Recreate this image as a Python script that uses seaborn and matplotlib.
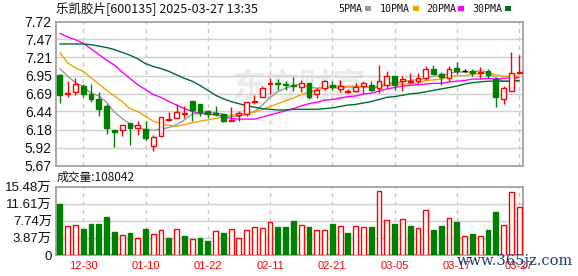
import numpy as np
import pandas as pd
import matplotlib
matplotlib.use("Agg")
import matplotlib.pyplot as plt
from matplotlib.patches import Rectangle
import seaborn as sns

# ---------------- data ----------------
title_text = "乐凯胶片[600135] 2025-03-27 13:35"
volume_text = "成交量:108042"
tick_pos = [3, 11, 19, 27, 35, 43, 51, 59]
tick_labels = ["12-30", "01-10", "01-22", "02-11", "02-21", "03-05", "03-17", "03-27"]
price_ticks = [5.67, 5.92, 6.18, 6.44, 6.69, 6.95, 7.21, 7.47, 7.72]
vol_ticks = [0, 3.87, 7.74, 11.61, 15.48]
vol_tick_labels = ["0", "3.87万", "7.74万", "11.61万", "15.48万"]

opens = [6.96, 6.69, 6.71, 6.80, 6.69, 6.61, 6.51, 6.18, 6.17, 6.28,
         6.20, 6.19, 5.95, 6.09, 6.32, 6.35, 6.41, 6.59, 6.54, 6.45,
         6.42, 6.41, 6.31, 6.39, 6.40, 6.57, 6.64, 6.83, 6.85, 6.83,
         6.81, 6.79, 6.85, 6.69, 6.77, 6.82, 6.76, 6.72, 6.73, 6.80,
         6.82, 6.78, 6.81, 6.95, 6.87, 6.86, 6.87, 6.91, 7.04, 6.97,
         6.92, 7.06, 7.02, 7.01, 6.98, 7.01, 6.90, 6.62, 6.73, 6.99]
highs = [6.97, 6.87, 6.91, 6.83, 6.83, 6.72, 6.54, 6.18, 6.25, 6.28,
         6.31, 6.31, 6.10, 6.36, 6.43, 6.54, 6.51, 6.59, 6.54, 6.46,
         6.51, 6.41, 6.50, 6.44, 6.57, 6.68, 6.80, 6.91, 6.90, 6.88,
         6.93, 6.89, 6.85, 6.77, 6.89, 6.87, 6.89, 6.76, 6.84, 6.87,
         6.87, 7.10, 7.01, 6.95, 6.94, 6.98, 6.98, 7.09, 7.10, 7.00,
         7.09, 7.15, 7.05, 7.04, 7.07, 7.04, 6.93, 6.80, 7.29, 7.24]
lows = [6.56, 6.65, 6.68, 6.64, 6.57, 6.37, 6.12, 5.93, 6.09, 5.96,
        6.10, 6.03, 5.87, 6.09, 6.31, 6.35, 6.35, 6.31, 6.37, 6.35,
        6.37, 6.29, 6.30, 6.31, 6.37, 6.55, 6.64, 6.69, 6.75, 6.75,
        6.73, 6.72, 6.62, 6.63, 6.74, 6.75, 6.71, 6.70, 6.71, 6.70,
        6.73, 6.70, 6.78, 6.75, 6.73, 6.84, 6.84, 6.89, 6.97, 6.81,
        6.88, 6.97, 7.00, 6.95, 6.91, 6.91, 6.50, 6.55, 6.73, 6.97]
closes = [6.68, 6.70, 6.83, 6.69, 6.62, 6.48, 6.21, 6.15, 6.25, 6.20,
          6.25, 6.06, 6.07, 6.36, 6.33, 6.43, 6.42, 6.46, 6.43, 6.40,
          6.41, 6.30, 6.32, 6.42, 6.57, 6.59, 6.77, 6.84, 6.83, 6.82,
          6.80, 6.84, 6.64, 6.75, 6.87, 6.79, 6.80, 6.73, 6.79, 6.85,
          6.75, 6.87, 6.95, 6.82, 6.90, 6.87, 6.91, 7.05, 6.97, 6.93,
          7.05, 7.02, 7.02, 6.99, 7.00, 6.96, 6.64, 6.77, 6.98, 7.00]
volumes = [11.50, 6.53, 6.76, 5.86, 7.06, 7.06, 8.56, 5.18, 4.51, 5.03,
           3.83, 5.86, 4.73, 5.56, 3.83, 5.78, 4.28, 3.53, 3.83, 3.15,
           5.41, 5.03, 5.86, 3.83, 5.63, 6.31, 6.08, 7.43, 6.31, 6.31,
           7.66, 6.76, 6.31, 5.63, 5.63, 7.06, 6.53, 5.03, 6.53, 6.31,
           6.31, 14.42, 7.89, 7.06, 8.11, 6.53, 6.08, 10.14, 5.63, 6.53,
           8.34, 7.43, 4.28, 4.73, 4.28, 5.63, 9.69, 6.76, 14.20, 10.8042]
ma5 = [7.05, 6.94, 6.85, 6.79, 6.70, 6.66, 6.57, 6.43, 6.34, 6.26,
       6.21, 6.18, 6.17, 6.19, 6.21, 6.25, 6.32, 6.40, 6.41, 6.43,
       6.42, 6.40, 6.37, 6.37, 6.40, 6.44, 6.53, 6.64, 6.72, 6.77,
       6.81, 6.83, 6.79, 6.77, 6.78, 6.78, 6.77, 6.79, 6.80, 6.79,
       6.78, 6.80, 6.84, 6.85, 6.86, 6.88, 6.89, 6.91, 6.94, 6.95,
       6.98, 7.00, 7.00, 7.00, 7.02, 7.00, 6.92, 6.87, 6.87, 6.87]
ma10 = [7.28, 7.13, 7.06, 7.01, 6.92, 6.83, 6.74, 6.66, 6.58, 6.48,
        6.44, 6.37, 6.30, 6.27, 6.24, 6.23, 6.25, 6.28, 6.30, 6.32,
        6.34, 6.36, 6.39, 6.39, 6.42, 6.43, 6.47, 6.51, 6.55, 6.59,
        6.63, 6.68, 6.71, 6.75, 6.78, 6.80, 6.80, 6.79, 6.78, 6.79,
        6.78, 6.78, 6.82, 6.82, 6.83, 6.83, 6.84, 6.88, 6.89, 6.90,
        6.93, 6.95, 6.95, 6.97, 6.98, 6.99, 6.96, 6.94, 6.94, 6.94]
ma20 = [7.55, 7.50, 7.46, 7.41, 7.33, 7.25, 7.17, 7.10, 7.00, 6.91,
        6.82, 6.75, 6.68, 6.64, 6.58, 6.53, 6.48, 6.44, 6.41, 6.40,
        6.39, 6.37, 6.34, 6.33, 6.33, 6.33, 6.36, 6.39, 6.42, 6.45,
        6.48, 6.52, 6.55, 6.57, 6.60, 6.61, 6.63, 6.65, 6.66, 6.69,
        6.70, 6.73, 6.76, 6.78, 6.80, 6.81, 6.82, 6.83, 6.84, 6.84,
        6.86, 6.87, 6.88, 6.90, 6.90, 6.91, 6.90, 6.91, 6.92, 6.92]
ma30 = [7.40, 7.40, 7.40, 7.40, 7.39, 7.37, 7.35, 7.32, 7.28, 7.24,
        7.19, 7.12, 7.08, 7.05, 7.01, 6.96, 6.91, 6.87, 6.81, 6.74,
        6.67, 6.62, 6.58, 6.55, 6.52, 6.50, 6.48, 6.47, 6.46, 6.46,
        6.47, 6.47, 6.47, 6.47, 6.48, 6.49, 6.51, 6.53, 6.54, 6.56,
        6.58, 6.61, 6.64, 6.65, 6.67, 6.69, 6.70, 6.72, 6.74, 6.76,
        6.78, 6.80, 6.83, 6.85, 6.86, 6.87, 6.87, 6.87, 6.87, 6.88]
ma_names = ["5PMA", "10PMA", "20PMA", "30PMA"]
ma_colors = ["#9b9b9b", "#f5a300", "#ff00ff", "#006b2f"]

RED = "#ff0000"
GREEN = "#008000"

# ---------------- style ----------------
sns.set_style("white")
plt.rcParams["font.family"] = ["Liberation Sans", "Noto Sans CJK SC", "DejaVu Sans"]

W, H = 578, 276
def fx(x):
    return x / W
def fy(y):
    return 1 - y / H

fig = plt.figure(figsize=(W / 100, H / 100), dpi=100)
fig.patch.set_facecolor("white")
ax = fig.add_axes([fx(56), fy(165.5), fx(523) - fx(56), fy(21.5) - fy(165.5)])
axv = fig.add_axes([fx(56), fy(255), fx(523) - fx(56), fy(186.5) - fy(255)])

n = len(closes)
idx = np.arange(n)

# watermark (faint)
ax.text(0.52, 0.54, "东方财富", transform=ax.transAxes, fontsize=24, fontweight="bold",
        color="#ebebeb", ha="center", va="center", family=["Noto Sans CJK SC"], zorder=0.5,
        style="italic")

# ---------------- MA lines ----------------
ma_df = pd.DataFrame({"idx": idx, "5PMA": ma5, "10PMA": ma10, "20PMA": ma20, "30PMA": ma30})
ma_long = ma_df.melt(id_vars="idx", var_name="MA", value_name="val")
sns.lineplot(data=ma_long, x="idx", y="val", hue="MA", hue_order=ma_names,
             palette=dict(zip(ma_names, ma_colors)), linewidth=1.0, legend=False,
             ax=ax, zorder=2)

# ---------------- candles ----------------
bw = 0.62
for i in range(n):
    o, h, l, c = opens[i], highs[i], lows[i], closes[i]
    if c > o:
        col, fc = RED, "white"
    elif c < o:
        col, fc = GREEN, GREEN
    else:
        col, fc = "black", "black"
    ax.vlines(i, l, h, color=col, linewidth=1.0, zorder=3)
    if c == o:
        ax.hlines(c, i - bw / 2, i + bw / 2, color=col, linewidth=1.0, zorder=4)
    else:
        ax.bar(i, abs(c - o), bottom=min(o, c), width=bw, facecolor=fc,
               edgecolor=col, linewidth=1.0, zorder=4)

# ---------------- volume ----------------
prev = [opens[0]] + closes[:-1]
vol_up = [closes[i] >= prev[i] for i in range(n)]
vol_df = pd.DataFrame({"idx": idx, "vol": volumes})
sns.barplot(data=vol_df, x="idx", y="vol", native_scale=True, width=bw,
            color="white", errorbar=None, ax=axv, zorder=3)
bars = [p for p in axv.patches]
for p, up in zip(bars, vol_up):
    if up:
        p.set_facecolor("white")
        p.set_edgecolor(RED)
    else:
        p.set_facecolor(GREEN)
        p.set_edgecolor(GREEN)
    p.set_linewidth(1.0)

# ---------------- axes styling ----------------
for a in (ax, axv):
    a.set_xlim(-0.5, n - 0.5)
    a.set_xlabel("")
    a.set_ylabel("")
    for s in a.spines.values():
        s.set_color("#9a9a9a")
        s.set_linewidth(1.2)
        s.set_visible(True)
    a.set_xticks(tick_pos)
    a.grid(False)
    for t in tick_pos:
        a.axvline(t, color="#c8c8c8", linewidth=1.0, linestyle=(0, (3, 3)), zorder=1)
    a.tick_params(length=0)

ax.set_ylim(5.67, 7.72)
ax.set_yticks(price_ticks)
ax.set_yticklabels([f"{v:.2f}" for v in price_ticks], fontsize=10, color="#111111")
ax.tick_params(axis="y", pad=3)
ax.set_xticklabels([])
for v in price_ticks[1:-1]:
    ax.axhline(v, color="#d0d0d0", linewidth=1.0, zorder=1)

axv.set_ylim(0, 15.48)
axv.set_yticks(vol_ticks)
axv.set_yticklabels(vol_tick_labels, fontsize=9.5, color="#111111")
axv.tick_params(axis="y", pad=3)
for v in vol_ticks[1:-1]:
    axv.axhline(v, color="#d0d0d0", linewidth=1.0, zorder=1)
axv.set_xticklabels(tick_labels, fontsize=8, color=RED)
axv.tick_params(axis="x", pad=4)

# ---------------- texts ----------------
fig.text(fx(56), fy(8.5), title_text, fontsize=9, family=["Noto Sans CJK SC"],
         ha="left", va="center", color="#111111")
fig.text(fx(57), fy(177), volume_text, fontsize=8.5, family=["Noto Sans CJK SC"],
         ha="left", va="center", color="#111111")

leg_x = [338, 380, 426, 472]
sq_x = [365, 413, 458, 505]
for name, col, tx, sx in zip(ma_names, ma_colors, leg_x, sq_x):
    fig.text(fx(tx), fy(8.5), name, fontsize=7.2, family=["DejaVu Sans Mono"],
             ha="left", va="center", color="#111111")
    fig.add_artist(Rectangle((fx(sx), fy(11)), 6 / W, 5 / H, transform=fig.transFigure,
                             facecolor=col, edgecolor="none"))

fig.text(fx(457), fy(261), "www.365jz.com", fontsize=10.5, family=["DejaVu Serif"],
         ha="left", va="center", color="#1c3d6e", zorder=10)

fig.savefig("out.png", dpi=100, facecolor="white")
